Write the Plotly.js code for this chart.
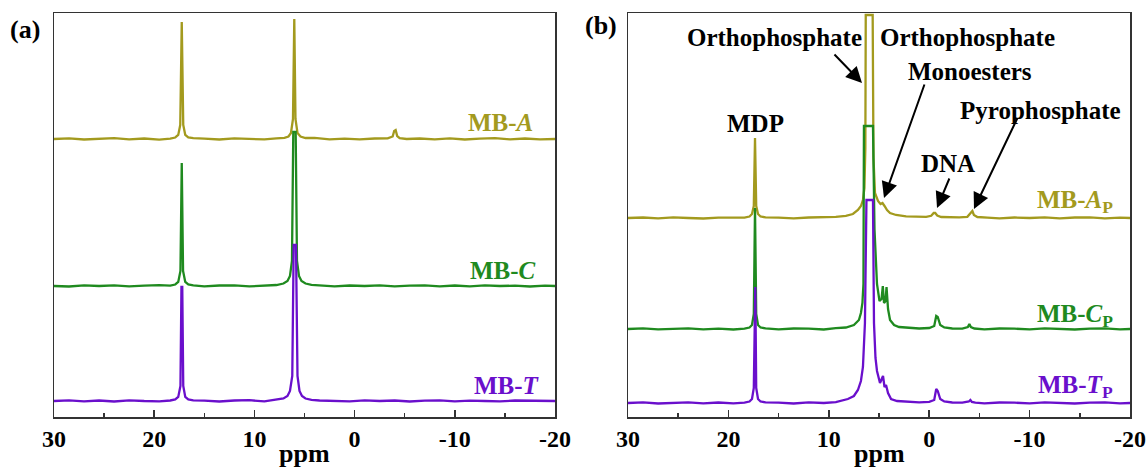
<!DOCTYPE html>
<html>
<head>
<meta charset="utf-8">
<script src="https://cdn.plot.ly/plotly-3.0.1.min.js"></script>
<style>html,body{margin:0;padding:0;background:#fff;}#plot{width:1147px;height:469px;}</style>
</head>
<body>
<div id="plot"></div>
<script>
// ---------- data (ppm, intensity above each trace's own baseline) ----------
const tickValues = [30, 20, 10, 0, -10, -20];
const tickLabels = ['30', '20', '10', '0', '-10', '-20'];
const minorTickValues = [25, 15, 5, -5, -15];

const A_x = [30, 28.5, 27, 25.5, 24, 22.5, 21, 19.5, 18.4, 17.9, 17.6, 17.4, 17.25, 17.1, 16.9, 16.6, 16.1, 15, 13.5, 12, 10.5, 9, 7.8, 7.0, 6.6, 6.35, 6.15, 6.02, 5.9, 5.7, 5.4, 4.9, 4, 2.5, 1, -0.5, -2, -3.3, -3.8, -3.95, -4.1, -4.25, -4.5, -5.2, -6.5, -8, -9.5, -11, -12.5, -14, -15.5, -17, -18.5, -20];
const A_y = [0, 0.6, -0.5, 0.4, 0.8, -0.3, 0.5, -0.6, 0.3, 1.5, 4, 14, 117, 14, 4, 1.5, 0.8, 0.4, -0.5, 0.6, 0, -0.4, 0.6, 1.2, 2.5, 6, 20, 120, 20, 6, 2.5, 1, 1.2, -0.4, 0.4, -0.3, 0.5, 0.6, 2.5, 8, 9, 3, 0.8, 0, 0.5, -0.4, 0.6, -0.5, 0.3, 0.8, -0.3, 0.5, -0.4, 0];

const C_x = [30, 28.5, 27, 25.5, 24, 22.5, 21, 19.5, 18.4, 17.9, 17.6, 17.38, 17.25, 17.12, 16.9, 16.6, 16.1, 15, 13.5, 12, 10.5, 9, 7.8, 7.1, 6.7, 6.45, 6.25, 6.12, 5.88, 5.75, 5.55, 5.3, 4.9, 4.3, 3.5, 2, 0.5, -1, -2.5, -4, -5.5, -7, -8.5, -10, -11.5, -13, -14.5, -16, -17.5, -19, -20];
const C_y = [0, -0.5, 0.6, 0, 0.7, -0.4, 0.4, 0.8, 0.3, 1.5, 4, 15, 123, 15, 4, 1.5, 0.6, -0.3, 0.5, 0.6, -0.4, 0.4, 1, 2.5, 5, 10, 25, 154, 154, 25, 10, 5, 2.5, 1.2, 0.6, -0.3, 0.5, 0, 0.7, -0.4, 0.4, 0.6, -0.3, 0.5, -0.4, 0.6, 0, 0.4, -0.5, 0.3, 0];

const T_x = [30, 28.5, 27, 25.5, 24, 22.5, 21, 19.5, 18.4, 17.9, 17.6, 17.38, 17.28, 17.2, 17.1, 16.9, 16.6, 16.1, 15, 13.5, 12, 10.5, 9, 7.8, 7.1, 6.7, 6.45, 6.22, 6.08, 5.85, 5.7, 5.5, 5.25, 4.9, 4.3, 3.5, 2, 0.5, -1, -2.5, -4, -5.5, -7, -8.5, -10, -11.5, -13, -14.5, -16, -17.5, -19, -20];
const T_y = [0, 0.6, -0.4, 0.5, -0.5, 0.7, 0, -0.3, 0.5, 1.5, 4, 15, 114, 114, 15, 4, 1.5, 0.6, 0.4, -0.5, 0.5, 0.8, -0.4, 1, 2.5, 5, 10, 25, 156, 156, 25, 10, 5, 2.5, 1.2, 0.5, 0.3, -0.4, 0.6, 0, 0.5, -0.5, 0.4, 0.7, -0.3, 0.4, 0, -0.4, 0.5, 0.3, -0.3, 0];

const Ap_x = [30, 28.5, 27, 25.5, 24, 22.5, 21, 19.5, 18.4, 17.9, 17.65, 17.47, 17.35, 17.23, 17.05, 16.8, 16.3, 15, 13.5, 12, 10.5, 9.3, 8.3, 7.6, 7.1, 6.8, 6.6, 6.45, 6.36, 6.32, 5.63, 5.55, 5.4, 5.1, 4.85, 4.65, 4.45, 4.2, 3.9, 3.3, 2.3, 1.2, 0.3, -0.2, -0.45, -0.6, -0.8, -1.2, -2, -3, -3.8, -4.15, -4.3, -4.45, -4.8, -5.8, -7, -8.5, -10, -11.5, -13, -14.5, -16, -17.5, -19, -20];
const Ap_y = [0, 0.5, -0.4, 0.6, 0, -0.5, 0.4, 0.7, 0.3, 1.5, 4, 12, 80, 12, 4, 1.5, 0.6, 0.3, -0.4, 0.5, 0.8, 1.2, 2.2, 4, 8, 12, 18, 30, 70, 203, 203, 60, 25, 17, 14, 15, 12, 8, 5, 3, 1.6, 1, 1.2, 2.2, 5, 5, 2.5, 1, 0.5, 0.6, 1.2, 5, 7, 3, 1, 0.4, -0.4, 0.5, 0, 0.6, -0.3, 0.5, 0.6, -0.4, 0.3, 0];

const Cp_x = [30, 28.5, 27, 25.5, 24, 22.5, 21, 19.5, 18.4, 17.9, 17.65, 17.47, 17.35, 17.23, 17.05, 16.8, 16.3, 15, 13.5, 12, 10.5, 9.3, 8.3, 7.5, 7.0, 6.8, 6.65, 6.55, 6.5, 5.6, 5.45, 5.2, 4.95, 4.75, 4.62, 4.5, 4.35, 4.25, 4.1, 3.9, 3.5, 3.0, 2, 1, 0, -0.5, -0.7, -0.85, -1.1, -1.5, -2.3, -3.3, -3.85, -4.0, -4.15, -4.5, -5.5, -7, -8.5, -10, -11.5, -13, -14.5, -16, -17.5, -19, -20];
const Cp_y = [0, 0.6, -0.4, 0.5, 0.7, -0.3, 0.4, -0.5, 0.3, 1.5, 4, 15, 121, 15, 4, 1.5, 0.6, -0.4, 0.5, 0.3, -0.5, 0.8, 1.5, 4, 9, 16, 26, 45, 203, 203, 100, 45, 28, 30, 43, 26, 28, 42, 20, 9, 4, 2, 1, 0.5, 1, 3, 13, 12, 4, 1.5, 0.5, 0.4, 2, 5, 2, 0.5, -0.4, 0.5, 0.3, -0.4, 0.6, 0, -0.5, 0.4, 0.6, -0.3, 0];

const Tp_x = [30, 28.5, 27, 25.5, 24, 22.5, 21, 19.5, 18.4, 17.9, 17.65, 17.47, 17.38, 17.32, 17.23, 17.05, 16.8, 16.3, 15, 13.5, 12, 10.5, 9.3, 8.1, 7.5, 7.1, 6.8, 6.6, 6.4, 6.28, 6.25, 5.6, 5.5, 5.35, 5.2, 4.9, 4.6, 4.45, 4.3, 4.1, 3.8, 3.2, 2, 1, 0, -0.5, -0.7, -0.85, -1.1, -1.5, -2.3, -3.3, -3.95, -4.1, -4.25, -4.6, -5.5, -7, -8.5, -10, -11.5, -13, -14.5, -16, -17.5, -19, -20];
const Tp_y = [0, 0.7, -0.5, 0.4, 0.6, -0.4, 0.5, -0.3, 0.4, 1.5, 4, 15, 116, 116, 15, 4, 1.5, 0.6, 0.4, -0.5, 0.6, 0, 0.8, 4, 7, 13, 22, 36, 80, 150, 203, 203, 80, 45, 32, 20, 27, 16, 18, 10, 4, 2, 1, 0.6, 1.2, 3, 14, 12, 4, 1.5, 0.5, 0.4, 1.5, 3, 1, 0.3, -0.4, 0.5, 0.3, -0.4, 0.6, 0, -0.5, 0.4, 0.6, -0.3, 0];

// ---------- styles / positions ----------
const FONT = '"Liberation Serif", "Times New Roman", serif';
const OLIVE = '#a39a1e', GREEN = '#1f8a1f', PURPLE = '#6a0fcc';
const offsetsA = [278, 131, 16];   // stacking offsets, panel (a)
const offsetsB = [199, 88, 14];    // stacking offsets, panel (b)
const M = {l: 0, r: 0, t: 13, b: 52};
const W = 1147, H = 469, PH = H - M.t - M.b;
const px2paperX = px => px / W;
const px2paperY = py => (H - M.b - py) / PH;

function tr(x, y, off, color, xa, ya) {
  return {x: x, y: y.map(v => v + off), type: 'scatter', mode: 'lines',
          line: {color: color, width: 2.3}, xaxis: xa, yaxis: ya, hoverinfo: 'skip'};
}
const data = [
  tr(A_x, A_y, offsetsA[0], OLIVE, 'x', 'y'),
  tr(C_x, C_y, offsetsA[1], GREEN, 'x', 'y'),
  tr(T_x, T_y, offsetsA[2], PURPLE, 'x', 'y'),
  tr(Ap_x, Ap_y, offsetsB[0], OLIVE, 'x2', 'y2'),
  tr(Cp_x, Cp_y, offsetsB[1], GREEN, 'x2', 'y2'),
  tr(Tp_x, Tp_y, offsetsB[2], PURPLE, 'x2', 'y2')
];

function xax(domain, anchor) {
  return {domain: domain, anchor: anchor, range: [30, -20], autorange: false,
    tickmode: 'array', tickvals: tickValues, ticktext: tickLabels,
    ticks: 'inside', ticklen: 7, tickwidth: 1.5, tickcolor: '#333',
    minor: {tickmode: 'array', tickvals: minorTickValues, ticks: 'inside', ticklen: 4, tickwidth: 1.5, tickcolor: '#333', showgrid: false},
    showline: true, linecolor: '#333', linewidth: 1.5, mirror: true,
    showgrid: false, zeroline: false, ticklabeloverflow: 'allow',
    tickfont: {family: FONT, size: 24, color: '#000', weight: 'bold'}};
}
function yax(anchor) {
  return {domain: [0, 1], anchor: anchor, range: [0, 404], autorange: false,
    showticklabels: false, ticks: '', showline: true, linecolor: '#333', linewidth: 1.5,
    mirror: true, showgrid: false, zeroline: false};
}

function lab(text, x, y, xref, yref, color, xanchor, size) {
  return {text: text, x: x, y: y, xref: xref, yref: yref, showarrow: false,
    xanchor: xanchor || 'center', yanchor: 'middle',
    font: {family: FONT, size: size || 25, color: color || '#000', weight: 'bold'}};
}
function arrow(hx, hy, tx, ty) {
  return {x: hx, y: hy, ax: tx, ay: ty, xref: 'x2', yref: 'y2', axref: 'x2', ayref: 'y2',
    text: '', showarrow: true, arrowhead: 2, arrowsize: 1.6, arrowwidth: 2, arrowcolor: '#000'};
}

const annotations = [
  lab('(a)', px2paperX(25), px2paperY(29), 'paper', 'paper', '#000', 'center', 26),
  lab('(b)', px2paperX(601), px2paperY(25), 'paper', 'paper', '#000', 'center', 26),
  lab('ppm', px2paperX(304), px2paperY(453), 'paper', 'paper', '#000', 'center', 26),
  lab('ppm', px2paperX(879), px2paperY(453), 'paper', 'paper', '#000', 'center', 26),
  lab('MB-<i>A</i>', -18.0, 295, 'x', 'y', OLIVE, 'right'),
  lab('MB-<i>C</i>', -18.3, 147, 'x', 'y', GREEN, 'right'),
  lab('MB-<i>T</i>', -18.7, 32, 'x', 'y', PURPLE, 'right'),
  lab('MB-<i>A</i><sub>P</sub>', -18.5, 216, 'x2', 'y2', OLIVE, 'right'),
  lab('MB-<i>C</i><sub>P</sub>', -18.5, 102, 'x2', 'y2', GREEN, 'right'),
  lab('MB-<i>T</i><sub>P</sub>', -18.5, 31, 'x2', 'y2', PURPLE, 'right'),
  lab('Orthophosphate', 15.36, 380, 'x2', 'y2'),
  lab('Orthophosphate', -3.86, 380, 'x2', 'y2'),
  lab('Monoesters', -4.06, 346, 'x2', 'y2'),
  lab('MDP', 17.35, 294, 'x2', 'y2'),
  lab('DNA', -1.87, 254, 'x2', 'y2'),
  lab('Pyrophosphate', -11.13, 307, 'x2', 'y2'),
  arrow(6.69, 334, 9.58, 364),
  arrow(4.5, 219, 0.42, 334),
  arrow(-0.78, 209, -2.07, 240),
  arrow(-4.46, 208, -8.84, 300)
];

const layout = {
  width: W, height: H,
  margin: {l: M.l, r: M.r, t: M.t, b: M.b, pad: 0},
  paper_bgcolor: '#fff', plot_bgcolor: '#fff',
  showlegend: false,
  font: {family: FONT, color: '#000'},
  xaxis: xax([54 / W, 555 / W], 'y'),
  yaxis: yax('x'),
  xaxis2: xax([628 / W, 1130 / W], 'y2'),
  yaxis2: yax('x2'),
  annotations: annotations
};

Plotly.newPlot('plot', data, layout, {displayModeBar: false, staticPlot: true});
</script>
</body>
</html>
